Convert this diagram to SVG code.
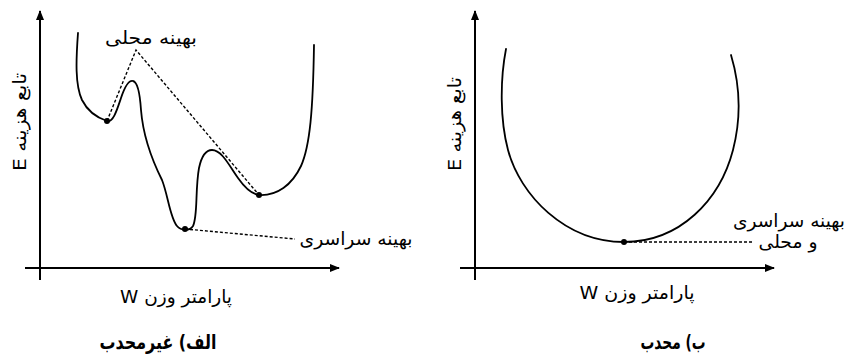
<svg xmlns="http://www.w3.org/2000/svg" width="847" height="361" viewBox="0 0 847 361">
<defs>
<marker id="ah" markerWidth="10" markerHeight="8" refX="9" refY="4" orient="auto" markerUnits="userSpaceOnUse">
<path d="M0,0 L10,4 L0,8 Z" fill="#000"/>
</marker>
<style>
.axis{stroke:#000;stroke-width:2;fill:none}
.curve{stroke:#000;stroke-width:1.8;fill:none;stroke-linecap:round}
.dash{stroke:#000;stroke-width:1.4;fill:none;stroke-dasharray:3 2}
.dot{fill:#000}
.t{font-family:'DejaVu Sans','Noto Sans',sans-serif;font-size:18px;fill:#000}
.b{font-family:'DejaVu Sans','Noto Sans',sans-serif;font-size:20px;font-weight:bold;fill:#000}
</style>
</defs>
<rect width="847" height="361" fill="#fff"/>

<g id="panel-a-axes">
<line class="axis" x1="40" y1="280" x2="40" y2="11" marker-end="url(#ah)"/>
<line class="axis" x1="25" y1="268" x2="339" y2="268" marker-end="url(#ah)"/>
<text class="t" direction="rtl" text-anchor="middle" textLength="98" lengthAdjust="spacingAndGlyphs" transform="translate(26,122) rotate(-90)">تابع هزینه E</text>
<text class="t" direction="rtl" text-anchor="middle" textLength="112" lengthAdjust="spacingAndGlyphs" x="176" y="303">پارامتر وزن W</text>
</g>

<g id="panel-a-curve">
<path class="curve" d="M78,33 C76,60 75,85 82,100 C88,112 98,118 107,121 C113,123 117,110 121,98 C125,86 129,80 133,81 C138,82 140,95 141,110 C143,135 152,160 162,180 C168,195 170,218 177,226 C181,231 190,231 193,226 C198,216 195,190 199,168 C202,154 207,150 212,150 C222,150 230,167 238,178 C245,188 251,194 259,195 C277,196 292,185 301,166 C310,146 313,110 314,45"/>
</g>

<g id="node-local-a">
<circle class="dot" cx="107" cy="121" r="3"/>
<circle class="dot" cx="259" cy="195" r="3"/>
<text class="t" direction="rtl" text-anchor="middle" textLength="92" lengthAdjust="spacingAndGlyphs" x="151" y="44">بهینه محلی</text>
</g>

<g id="node-global-a">
<circle class="dot" cx="185" cy="229" r="3"/>
<text class="t" direction="rtl" text-anchor="middle" textLength="113" lengthAdjust="spacingAndGlyphs" x="356" y="245">بهینه سراسری</text>
</g>

<g id="panel-b-axes">
<line class="axis" x1="475" y1="280" x2="475" y2="11" marker-end="url(#ah)"/>
<line class="axis" x1="460" y1="268" x2="774" y2="268" marker-end="url(#ah)"/>
<text class="t" direction="rtl" text-anchor="middle" textLength="94" lengthAdjust="spacingAndGlyphs" transform="translate(461,124) rotate(-90)">تابع هزینه E</text>
<text class="t" direction="rtl" text-anchor="middle" textLength="115" lengthAdjust="spacingAndGlyphs" x="637" y="299">پارامتر وزن W</text>
</g>

<g id="panel-b-curve">
<path class="curve" d="M506,49 C500,80 500,120 508,150 C520,195 565,242 624,242 C680,242 720,200 733,150 C742,115 740,85 731,55"/>
</g>

<g id="node-global-b">
<circle class="dot" cx="624" cy="242" r="3"/>
<text class="t" direction="rtl" text-anchor="middle" textLength="112" lengthAdjust="spacingAndGlyphs" x="789" y="227">بهینه سراسری</text>
<text class="t" direction="rtl" text-anchor="middle" textLength="59" lengthAdjust="spacingAndGlyphs" x="788" y="248">و محلی</text>
</g>

<g id="connectors">
<polyline class="dash" points="107,121 136,50 259,195"/>
<line class="dash" x1="185" y1="229" x2="295" y2="239"/>
<line class="dash" x1="624" y1="242" x2="753" y2="242"/>
</g>

<g id="captions">
<text class="b" direction="rtl" text-anchor="middle" x="158" y="349" textLength="117" lengthAdjust="spacingAndGlyphs">الف) غیرمحدب</text>
<text class="b" direction="rtl" text-anchor="middle" x="673" y="349" textLength="65" lengthAdjust="spacingAndGlyphs">ب) محدب</text>
</g>
</svg>
